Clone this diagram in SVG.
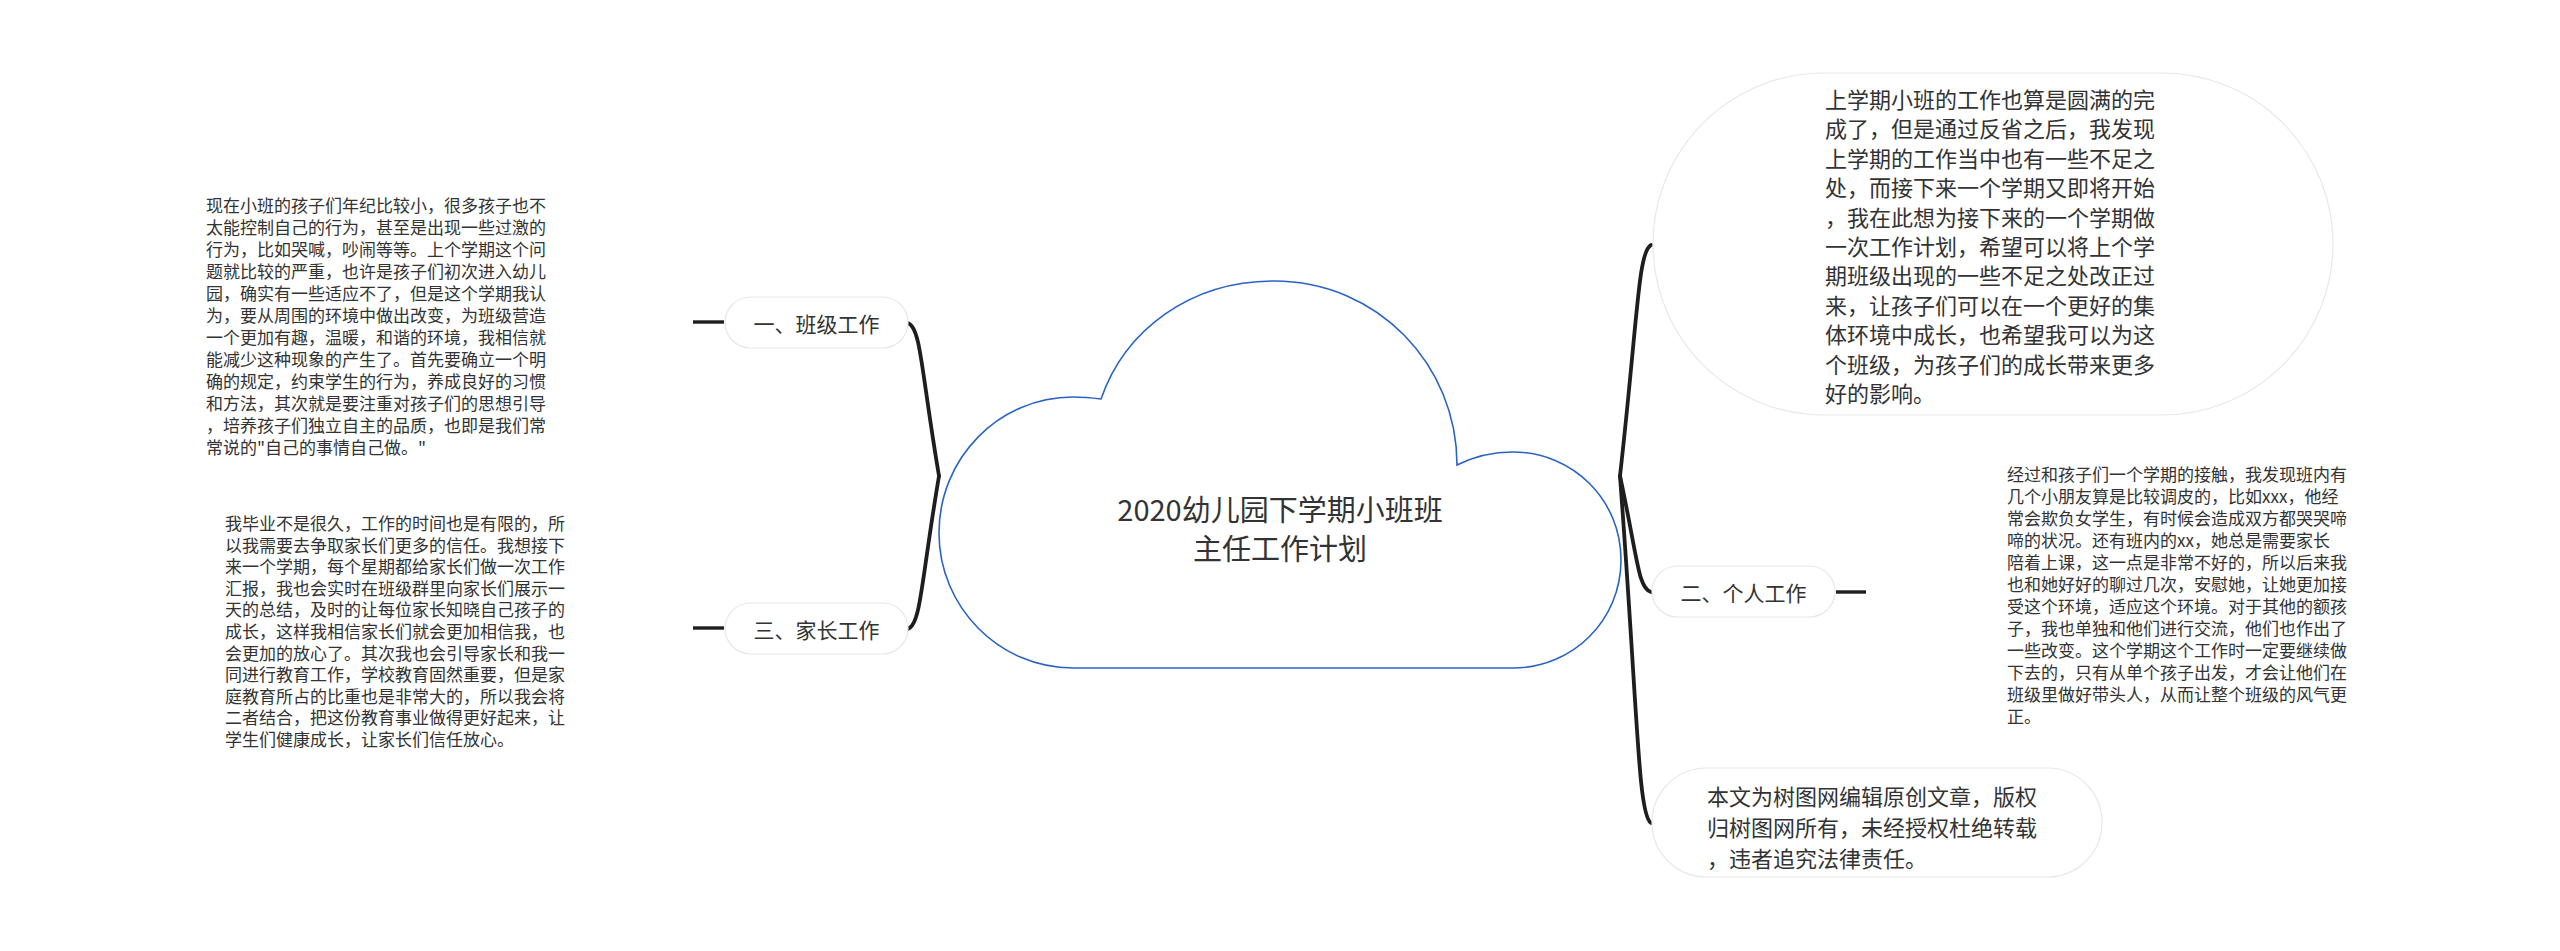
<svg xmlns="http://www.w3.org/2000/svg" width="2560" height="951" viewBox="0 0 2560 951">
<style>
.t{font-family:"Noto Sans CJK SC","Liberation Sans",sans-serif;fill:#333;dominant-baseline:central}
.s{font-size:17px}
.m{font-size:22px}
.p{font-size:21px}
.pill{fill:#fff;stroke:#e8e8e8;stroke-width:1.2}
.br{fill:none;stroke:#1e1e1e;stroke-width:3.8;stroke-linecap:round}
.ln{fill:none;stroke:#1e1e1e;stroke-width:3.4}
</style>
<rect width="2560" height="951" fill="#fff"/>
<g id="connectors">
<path class="br" d="M908 323 C921 328 921 370 939 476"/>
<path class="br" d="M908 629 C921 624 921 582 939 476"/>
<path class="br" d="M1651 245 C1638 252 1638 316 1620 476"/>
<path class="br" d="M1651 592 C1638 588 1638 560 1620 476"/>
<path class="br" d="M1651 823 C1638 815 1638 716 1620 476"/>
<path class="ln" d="M693 322 H724"/>
<path class="ln" d="M693 628 H724"/>
<path class="ln" d="M1836 592 H1866"/>
</g>
<g id="root">
<path d="M1073 668 C999 668 939 607 939 533 C939 458 999 397 1073 397 C1083 397 1093 398 1101 399 C1125 330 1190 281 1274 281 C1378 281 1457 365 1457 465 C1475 456 1494 452 1513 452 C1573 452 1621 500 1621 560 C1621 620 1573 668 1513 668 Z" fill="#fff" stroke="#2a63c4" stroke-width="1.6"/>
<text class="t" font-size="29" text-anchor="middle"><tspan x="1280" y="508">2020幼儿园下学期小班班</tspan><tspan x="1280" y="547">主任工作计划</tspan></text>
</g>
<g id="n1">
<rect class="pill" x="725" y="297" width="183" height="51" rx="25.5"/>
<text class="t p" x="816.5" y="322.5" text-anchor="middle">一、班级工作</text>
</g>
<g id="n1-leaf">
<text class="t s">
<tspan x="206" y="204">现在小班的孩子们年纪比较小，很多孩子也不</tspan>
<tspan x="206" y="226">太能控制自己的行为，甚至是出现一些过激的</tspan>
<tspan x="206" y="248">行为，比如哭喊，吵闹等等。上个学期这个问</tspan>
<tspan x="206" y="270">题就比较的严重，也许是孩子们初次进入幼儿</tspan>
<tspan x="206" y="292">园，确实有一些适应不了，但是这个学期我认</tspan>
<tspan x="206" y="314">为，要从周围的环境中做出改变，为班级营造</tspan>
<tspan x="206" y="336">一个更加有趣，温暖，和谐的环境，我相信就</tspan>
<tspan x="206" y="358">能减少这种现象的产生了。首先要确立一个明</tspan>
<tspan x="206" y="380">确的规定，约束学生的行为，养成良好的习惯</tspan>
<tspan x="206" y="402">和方法，其次就是要注重对孩子们的思想引导</tspan>
<tspan x="206" y="424">，培养孩子们独立自主的品质，也即是我们常</tspan>
<tspan x="206" y="446">常说的"自己的事情自己做。"</tspan>
</text>
</g>
<g id="n3">
<rect class="pill" x="725" y="603" width="183" height="51" rx="25.5"/>
<text class="t p" x="816.5" y="628.5" text-anchor="middle">三、家长工作</text>
</g>
<g id="n3-leaf">
<text class="t s">
<tspan x="225" y="522">我毕业不是很久，工作的时间也是有限的，所</tspan>
<tspan x="225" y="543.6">以我需要去争取家长们更多的信任。我想接下</tspan>
<tspan x="225" y="565.2">来一个学期，每个星期都给家长们做一次工作</tspan>
<tspan x="225" y="586.8">汇报，我也会实时在班级群里向家长们展示一</tspan>
<tspan x="225" y="608.4">天的总结，及时的让每位家长知晓自己孩子的</tspan>
<tspan x="225" y="630">成长，这样我相信家长们就会更加相信我，也</tspan>
<tspan x="225" y="651.6">会更加的放心了。其次我也会引导家长和我一</tspan>
<tspan x="225" y="673.2">同进行教育工作，学校教育固然重要，但是家</tspan>
<tspan x="225" y="694.8">庭教育所占的比重也是非常大的，所以我会将</tspan>
<tspan x="225" y="716.4">二者结合，把这份教育事业做得更好起来，让</tspan>
<tspan x="225" y="738">学生们健康成长，让家长们信任放心。</tspan>
</text>
</g>
<g id="r1">
<rect class="pill" x="1653" y="73" width="680" height="342" rx="171"/>
<text class="t m">
<tspan x="1825" y="98">上学期小班的工作也算是圆满的完</tspan>
<tspan x="1825" y="127.4">成了，但是通过反省之后，我发现</tspan>
<tspan x="1825" y="156.8">上学期的工作当中也有一些不足之</tspan>
<tspan x="1825" y="186.2">处，而接下来一个学期又即将开始</tspan>
<tspan x="1825" y="215.6">，我在此想为接下来的一个学期做</tspan>
<tspan x="1825" y="245">一次工作计划，希望可以将上个学</tspan>
<tspan x="1825" y="274.4">期班级出现的一些不足之处改正过</tspan>
<tspan x="1825" y="303.8">来，让孩子们可以在一个更好的集</tspan>
<tspan x="1825" y="333.2">体环境中成长，也希望我可以为这</tspan>
<tspan x="1825" y="362.6">个班级，为孩子们的成长带来更多</tspan>
<tspan x="1825" y="392">好的影响。</tspan>
</text>
</g>
<g id="n2">
<rect class="pill" x="1652" y="566" width="183" height="51" rx="25.5"/>
<text class="t p" x="1743.5" y="591.5" text-anchor="middle">二、个人工作</text>
</g>
<g id="n2-leaf">
<text class="t s">
<tspan x="2007" y="473">经过和孩子们一个学期的接触，我发现班内有</tspan>
<tspan x="2007" y="495">几个小朋友算是比较调皮的，比如xxx，他经</tspan>
<tspan x="2007" y="517">常会欺负女学生，有时候会造成双方都哭哭啼</tspan>
<tspan x="2007" y="539">啼的状况。还有班内的xx，她总是需要家长</tspan>
<tspan x="2007" y="561">陪着上课，这一点是非常不好的，所以后来我</tspan>
<tspan x="2007" y="583">也和她好好的聊过几次，安慰她，让她更加接</tspan>
<tspan x="2007" y="605">受这个环境，适应这个环境。对于其他的额孩</tspan>
<tspan x="2007" y="627">子，我也单独和他们进行交流，他们也作出了</tspan>
<tspan x="2007" y="649">一些改变。这个学期这个工作时一定要继续做</tspan>
<tspan x="2007" y="671">下去的，只有从单个孩子出发，才会让他们在</tspan>
<tspan x="2007" y="693">班级里做好带头人，从而让整个班级的风气更</tspan>
<tspan x="2007" y="715">正。</tspan>
</text>
</g>
<g id="r3">
<rect class="pill" x="1652" y="768" width="450" height="109" rx="54.5"/>
<text class="t m">
<tspan x="1707" y="795">本文为树图网编辑原创文章，版权</tspan>
<tspan x="1707" y="826">归树图网所有，未经授权杜绝转载</tspan>
<tspan x="1707" y="857">，违者追究法律责任。</tspan>
</text>
</g>
</svg>
